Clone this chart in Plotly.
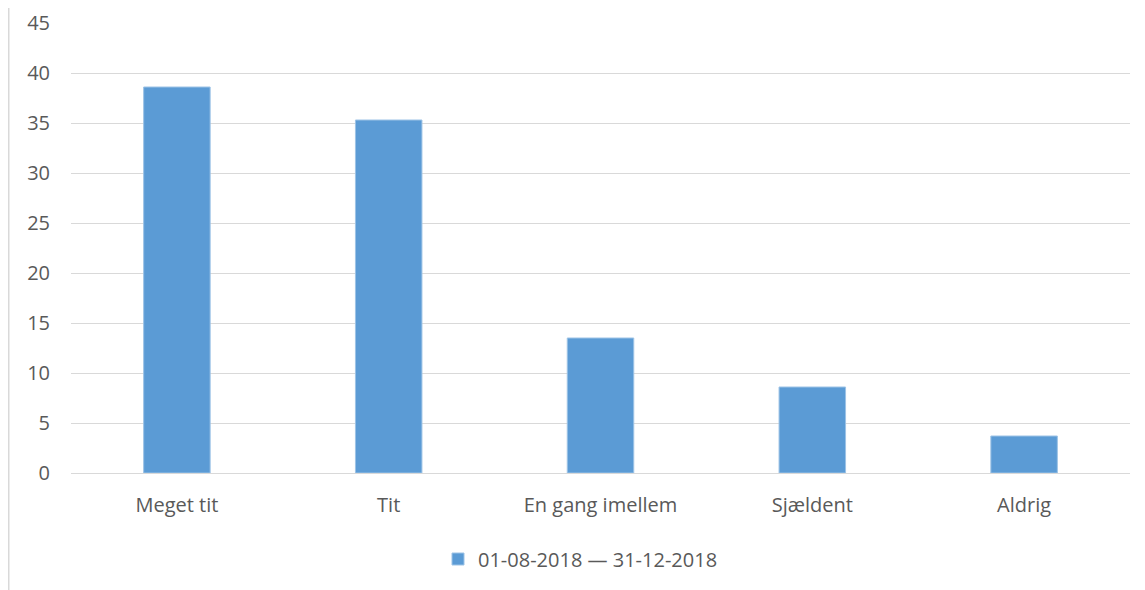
import plotly.graph_objects as go

categories = ["Meget tit", "Tit", "En gang imellem", "Sjældent", "Aldrig"]
values = [38.6, 35.3, 13.5, 8.6, 3.7]
series_name = "01-08-2018 — 31-12-2018"
y_ticks = [0, 5, 10, 15, 20, 25, 30, 35, 40, 45]

# page has an 8px body margin, so the figure is slightly smaller than the window
W, H = 1137, 582
ml, mt = 63, 15
pw, ph = 1059, 450
mr = W - ml - pw
mb = H - mt - ph

fig = go.Figure()
fig.add_trace(go.Bar(
    x=categories, y=values, name=series_name,
    marker=dict(color="#5B9BD5", line=dict(color="#9DC3E6", width=1)),
    showlegend=True,
))

font = "Open Sans, Liberation Sans, sans-serif"
fig.update_layout(
    width=W, height=H,
    margin=dict(l=ml, r=mr, t=mt, b=mb, pad=0),
    paper_bgcolor="white", plot_bgcolor="white",
    bargap=0.686,
    font=dict(family=font, size=20, color="#595959"),
    xaxis=dict(showgrid=False, showline=False, ticks="", ticklabelstandoff=18, automargin=False,
               tickfont=dict(size=20, color="#595959")),
    yaxis=dict(range=[0, 45], tickvals=y_ticks, showgrid=True, gridcolor="#D9D9D9", gridwidth=1,
               zeroline=True, zerolinecolor="#D9D9D9", zerolinewidth=1, showline=False, automargin=False,
               ticks="", ticklabelstandoff=20, tickfont=dict(size=20, color="#595959")),
    legend=dict(orientation="h", x=0.5 - 20 / pw, xanchor="center", y=-(551 - mt - ph) / ph, yanchor="middle",
                font=dict(size=20, color="#595959"), itemwidth=30, bgcolor="rgba(0,0,0,0)"),
    showlegend=True,
)
fig.add_shape(type="line", xref="paper", yref="paper",
              x0=(0.75 - ml) / pw, x1=(0.75 - ml) / pw,
              y0=1 + mt / ph, y1=-(H - mt - ph) / ph,
              line=dict(color="#D9D9D9", width=1.5))
fig.write_html("out.html")
